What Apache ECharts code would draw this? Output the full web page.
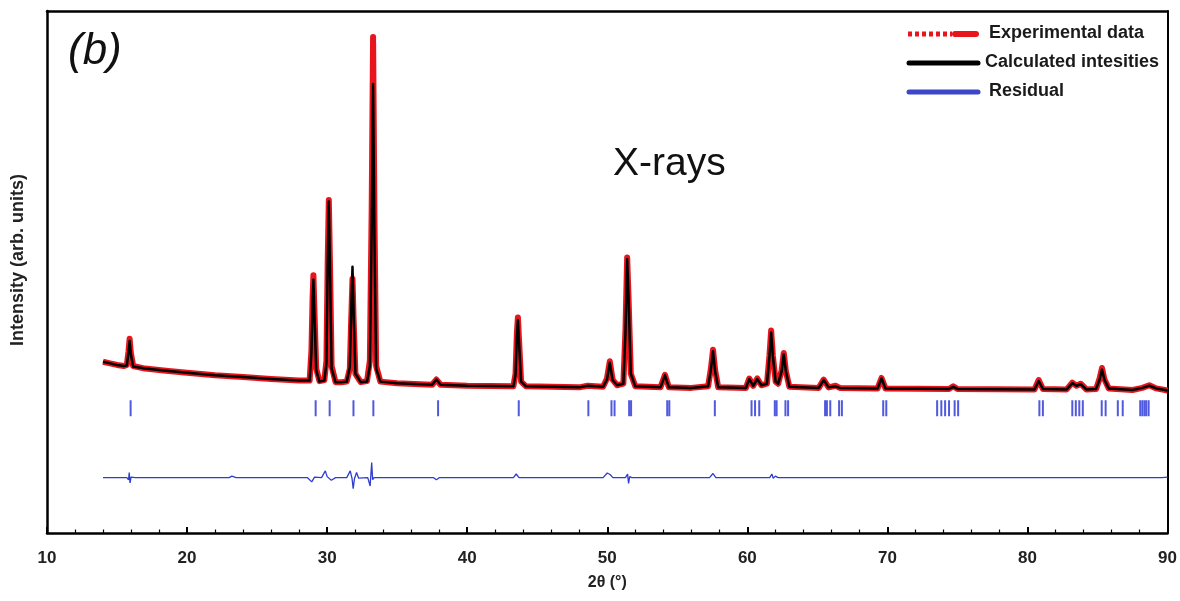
<!DOCTYPE html>
<html>
<head>
<meta charset="utf-8">
<script src="https://cdn.jsdelivr.net/npm/echarts@6/dist/echarts.min.js"></script>
<style>
html,body{margin:0;padding:0;background:#fff;}
#chart{width:1180px;height:601px;}
</style>
</head>
<body>
<div id="chart"></div>
<script>
// ---- Data (arbitrary intensity units) ----
const twoTheta = [14.0,14.5,15.0,15.5,15.7,15.82,15.9,15.98,16.15,17.0,18.5,20.0,22.0,24.0,26.0,28.0,28.75,28.88,28.96,29.02,29.1,29.22,29.45,29.8,29.95,30.04,30.12,30.2,30.32,30.6,31.0,31.4,31.62,31.72,31.81,31.9,32.02,32.4,32.85,33.05,33.18,33.28,33.38,33.5,33.8,35.0,37.5,37.8,38.1,40.0,43.3,43.45,43.55,43.62,43.7,43.85,44.2,46.0,48.0,48.6,49.7,49.98,50.18,50.38,50.7,51.15,51.3,51.42,51.52,51.68,52.0,53.8,54.12,54.4,56.0,57.2,57.4,57.55,57.7,57.92,59.9,60.14,60.42,60.71,61.0,61.4,61.58,61.7,61.82,62.02,62.2,62.45,62.6,62.75,63.0,65.1,65.45,65.8,66.3,66.6,69.3,69.58,69.86,74.4,74.7,75.0,80.5,80.8,81.1,82.8,83.2,83.5,83.8,84.2,84.9,85.15,85.32,85.5,85.8,87.5,88.2,88.7,89.2,90.0];
const observed = [32.8,32.5,32.2,32.0,32.2,34.8,37.2,34.6,32.0,31.5,31.1,30.7,30.2,29.9,29.5,29.2,29.2,35.0,45.0,49.4,42.0,31.5,29.1,29.3,33.0,52.0,63.8,52.0,32.0,28.9,28.9,29.0,31.5,41.0,48.7,40.0,30.5,28.9,29.1,33.0,62.0,95.0,60.0,32.0,29.0,28.7,28.4,29.4,28.4,28.2,28.1,30.5,38.5,41.3,37.0,29.0,28.1,28.0,27.9,28.2,28.0,29.6,32.9,29.4,28.3,28.6,39.0,52.8,45.0,30.5,28.1,27.9,30.3,27.9,27.8,28.1,31.5,35.1,31.2,27.9,27.8,29.6,28.2,29.6,28.3,28.6,34.0,38.8,34.0,29.0,28.6,31.2,34.5,31.0,28.0,27.8,29.4,27.9,28.2,27.8,27.7,29.7,27.7,27.6,28.1,27.6,27.5,29.3,27.6,27.5,28.8,28.2,28.6,27.5,27.6,29.6,31.6,29.4,27.7,27.4,27.8,28.3,27.7,27.3];
const calculated = [32.8,32.5,32.2,32.0,32.1,34.6,36.8,34.4,31.9,31.5,31.1,30.7,30.2,29.9,29.5,29.2,29.2,34.5,44.2,48.5,41.5,31.2,29.0,29.2,32.5,51.5,63.5,51.5,31.5,28.9,28.9,29.0,31.8,42.5,51.0,41.5,30.5,28.9,29.0,32.0,58.0,86.0,56.0,31.5,29.0,28.7,28.4,29.4,28.4,28.2,28.1,30.3,38.0,40.8,36.5,29.0,28.1,28.0,27.9,28.2,28.0,29.4,32.6,29.3,28.3,28.6,38.5,52.5,45.0,30.5,28.1,27.9,30.2,27.9,27.8,28.1,31.3,34.8,31.0,27.9,27.8,29.5,28.2,29.5,28.3,28.6,33.8,38.4,34.0,29.0,28.6,31.0,34.2,31.0,28.0,27.8,29.3,27.9,28.1,27.8,27.7,29.6,27.7,27.6,28.0,27.6,27.5,29.1,27.6,27.5,28.7,28.2,28.5,27.5,27.6,29.4,31.3,29.3,27.7,27.4,27.8,28.2,27.7,27.3];

const residualTheta = [14.0,15.7,15.82,15.87,15.93,16.0,16.3,23.0,23.2,23.5,28.6,28.9,29.1,29.6,29.87,30.0,30.3,30.6,31.4,31.65,31.78,31.86,31.95,32.1,32.25,32.9,33.07,33.18,33.25,33.35,37.6,37.8,38.0,43.3,43.5,43.7,49.7,50.0,50.2,50.4,51.3,51.45,51.52,51.6,51.75,57.3,57.55,57.75,61.6,61.75,61.85,62.0,62.2,66.2,66.3,66.5,89.6,89.7,90.0];
const residual = [10.6,10.6,10.2,11.6,9.6,10.7,10.6,10.6,10.9,10.6,10.6,9.8,10.7,10.6,11.9,10.8,10.1,10.6,10.6,11.9,10.4,8.5,10.4,11.6,10.5,10.6,9.0,13.5,10.2,10.6,10.6,10.2,10.6,10.6,11.3,10.6,10.6,11.5,11.2,10.6,10.6,11.3,9.5,10.8,10.6,10.6,11.4,10.6,10.6,11.3,10.5,10.9,10.6,10.6,10.8,10.6,10.6,10.9,10.7];

const braggPositions = [15.97,29.18,30.18,31.88,33.30,37.92,43.68,48.65,50.30,50.52,51.56,51.70,54.28,54.43,57.68,60.30,60.55,60.85,61.96,62.09,62.72,62.91,65.55,65.68,65.92,66.55,66.75,69.70,69.92,73.55,73.85,74.12,74.40,74.80,75.05,80.85,81.10,83.20,83.45,83.70,83.95,85.30,85.58,86.45,86.80,88.05,88.20,88.35,88.48,88.65];
const braggLevel = 23.9;

const xTicks = [10,20,30,40,50,60,70,80,90];
const legendNames = ['Experimental data','Calculated intesities','Residual'];

// ---- Build series data ----
const obsData = twoTheta.map((t,i)=>[t, observed[i]]);
const calcData = twoTheta.map((t,i)=>[t, calculated[i]]);
const resData = residualTheta.map((t,i)=>[t, residual[i]]);
const braggData = braggPositions.map(t=>[t, braggLevel]);

const chart = echarts.init(document.getElementById('chart'), null, {renderer:'canvas'});
const FONT = '"Liberation Sans", Arial, sans-serif';

chart.setOption({
  animation:false,
  backgroundColor:'#fff',
  grid:{left:47, right:7, top:11, bottom:68, containLabel:false},
  xAxis:[
    {
      type:'value', min:xTicks[0], max:xTicks[xTicks.length-1], interval:10, position:'bottom',
      axisLine:{show:true, onZero:false, lineStyle:{color:'#000', width:2.5}},
      axisTick:{show:true, inside:true, length:6, lineStyle:{color:'#000', width:2}},
      minorTick:{show:true, splitNumber:5, length:3.5, lineStyle:{color:'#000', width:1.2}},
      splitLine:{show:false}, minorSplitLine:{show:false},
      axisLabel:{show:true, fontFamily:FONT, fontWeight:'bold', fontSize:17, color:'#222', margin:17},
      name:'2θ (°)', nameLocation:'middle', nameGap:42,
      nameTextStyle:{fontFamily:FONT, fontWeight:'bold', fontSize:16, color:'#222'}
    },
    {
      type:'value', min:xTicks[0], max:xTicks[xTicks.length-1], interval:10, position:'top',
      axisLine:{show:true, onZero:false, lineStyle:{color:'#000', width:2.5}},
      axisTick:{show:false}, minorTick:{show:false}, axisLabel:{show:false}, splitLine:{show:false}
    }
  ],
  yAxis:[
    {type:'value', min:0, max:100, position:'left',
     axisLine:{show:true, onZero:false, lineStyle:{color:'#000', width:2.5}},
     axisTick:{show:false}, axisLabel:{show:false}, splitLine:{show:false}},
    {type:'value', min:0, max:100, position:'right',
     axisLine:{show:true, onZero:false, lineStyle:{color:'#000', width:2}},
     axisTick:{show:false}, axisLabel:{show:false}, splitLine:{show:false}}
  ],
  series:[
    {name:legendNames[0], type:'line', data:obsData, showSymbol:false, smooth:false,
     lineStyle:{color:'#e8161c', width:6, join:'round'}, z:2},
    {name:legendNames[1], type:'line', data:calcData, showSymbol:false, smooth:false,
     lineStyle:{color:'#000', width:2.5, join:'round'}, z:3},
    {name:legendNames[2], type:'line', data:resData, showSymbol:false, smooth:false,
     lineStyle:{color:'#2f3ccf', width:1.3}, z:3},
    {name:'Bragg', type:'scatter', data:braggData, symbol:'rect', symbolSize:[2,16],
     itemStyle:{color:'#2530d6'}, silent:true, z:3}
  ],
  graphic:[
    // legend
    {type:'line', shape:{x1:908,y1:34,x2:952,y2:34}, style:{stroke:'#e8161c', lineWidth:5, lineDash:[4,3]}},
    {type:'line', shape:{x1:955,y1:34,x2:976,y2:34}, style:{stroke:'#e8161c', lineWidth:6, lineCap:'round'}},
    {type:'text', left:989, top:24, style:{text:legendNames[0], font:'bold 18px '+FONT, fill:'#1a1a1a'}},
    {type:'line', shape:{x1:909,y1:63,x2:978,y2:63}, style:{stroke:'#000', lineWidth:5, lineCap:'round'}},
    {type:'text', left:985, top:53, style:{text:legendNames[1], font:'bold 18px '+FONT, fill:'#1a1a1a'}},
    {type:'line', shape:{x1:909,y1:92,x2:978,y2:92}, style:{stroke:'#3c46c8', lineWidth:5, lineCap:'round'}},
    {type:'text', left:989, top:82, style:{text:legendNames[2], font:'bold 18px '+FONT, fill:'#1a1a1a'}},
    // annotations
    {type:'text', left:68, top:30, style:{text:'(b)', font:'italic 44px '+FONT, fill:'#111'}},
    {type:'text', left:613, top:145, style:{text:'X-rays', font:'39px '+FONT, fill:'#111'}},
    {type:'text', x:18, y:260, rotation:Math.PI/2,
     style:{text:'Intensity (arb. units)', font:'bold 18px '+FONT, fill:'#222', align:'center', verticalAlign:'middle'}}
  ]
});
</script>
</body>
</html>
